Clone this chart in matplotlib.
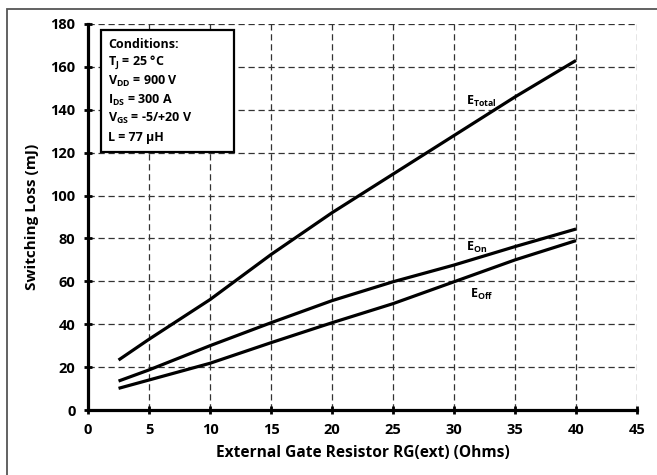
import numpy as np
import matplotlib.pyplot as plt
from matplotlib.patches import Rectangle

# switching energy vs external gate resistance
rg = [2.5, 5, 10, 15, 20, 25, 30, 35, 40]
e_total = [23.3, 33, 51.5, 72.5, 92, 110, 128, 146, 163]
e_on = [13.5, 18.7, 30, 40.7, 51, 59.8, 67.6, 76.2, 84.4]
e_off = [10.1, 14, 21.8, 31.4, 40.7, 49.6, 59.8, 70, 79]

conditions = [
    'Conditions:',
    r'T$_\mathregular{J}$ = 25 °C',
    r'V$_\mathregular{DD}$ = 900 V',
    r'I$_\mathregular{DS}$ = 300 A',
    r'V$_\mathregular{GS}$ = -5/+20 V',
    'L = 77 µH',
]

plt.rcParams['font.family'] = ['Open Sans', 'DejaVu Sans']
plt.rcParams['font.weight'] = 'bold'

fig = plt.figure(figsize=(6.57, 4.75), dpi=100)
ax = fig.add_axes([0.134, 0.1368, 0.8356, 0.8127])

for y in (e_total, e_on, e_off):
    ax.plot(rg, y, color='black', lw=2.3, solid_capstyle='butt')

ax.set_xlim(0, 45)
ax.set_ylim(0, 180)
ax.set_xticks(np.arange(0, 46, 5))
ax.set_yticks(np.arange(0, 181, 20))
ax.grid(True, color='#333333', linestyle=(0, (5, 3)), linewidth=0.9)

for side in ('top', 'right'):
    ax.spines[side].set_visible(False)
for side in ('left', 'bottom'):
    ax.spines[side].set_linewidth(2.3)
ax.tick_params(direction='inout', length=6, width=2, labelsize=10.5, pad=6)
for lbl in ax.get_xticklabels() + ax.get_yticklabels():
    lbl.set_fontweight('bold')

ax.set_xlabel('External Gate Resistor RG(ext) (Ohms)', fontsize=11.2, fontweight='bold', labelpad=6)
ax.set_ylabel('Switching Loss (mJ)', fontsize=11, fontweight='bold', labelpad=8)

# curve labels
ax.text(31.0, 144, r'E$_\mathregular{Total}$', fontsize=9, fontweight='bold', va='center')
ax.text(31.0, 76, r'E$_\mathregular{On}$', fontsize=9, fontweight='bold', va='center')
ax.text(31.3, 54, r'E$_\mathregular{Off}$', fontsize=9, fontweight='bold', va='center')

# test conditions box
ax.add_patch(Rectangle((1.05, 120.5), 10.9, 56.5, facecolor='white', edgecolor='black',
                       lw=1.6, zorder=3))
for i, line in enumerate(conditions):
    ax.text(1.65, 170.3 - i * 8.6, line, fontsize=9, fontweight='bold', va='center', zorder=4)

# outer frame
fig.add_artist(Rectangle((7 / 657, -0.1), 1.2, (475 - 9) / 475 + 0.1, transform=fig.transFigure,
                         facecolor='none', edgecolor='#555555', lw=1.3, clip_on=False))

fig.savefig('out.png', dpi=100)
